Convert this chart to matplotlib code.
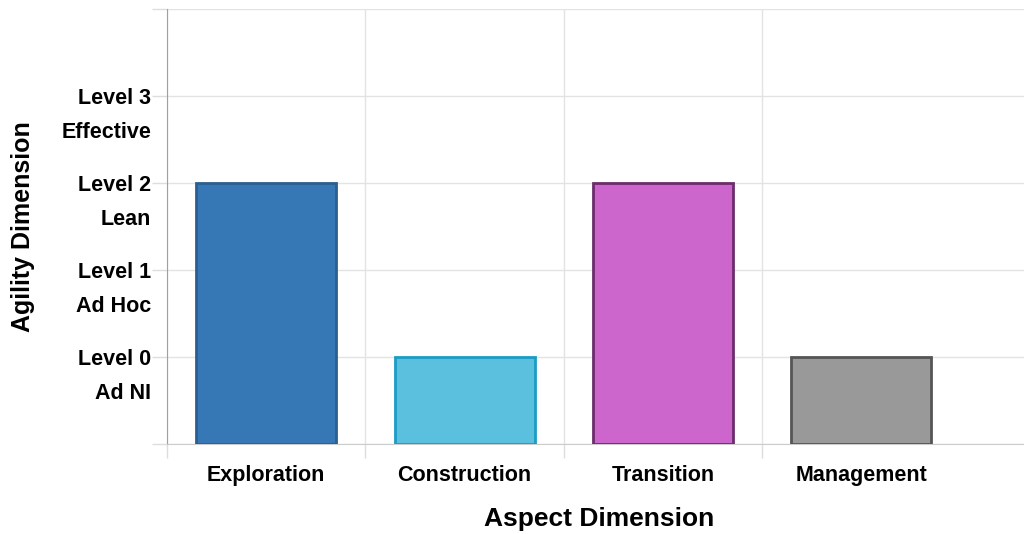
import numpy as np
import matplotlib.pyplot as plt
from matplotlib.ticker import FixedLocator, FixedFormatter

plt.rcParams["font.family"] = ["Liberation Sans", "DejaVu Sans"]
plt.rcParams["font.weight"] = "bold"

aspects = ["Exploration", "Construction", "Transition", "Management"]
levels = [2, 0, 2, 0]
level_names = ["Level 0", "Level 1", "Level 2", "Level 3"]
level_desc = ["Ad NI", "Ad Hoc", "Lean", "Effective"]

fills = ["#3578b5", "#5bc0de", "#cc66cc", "#999999"]
edges = ["#2b5f8f", "#1a9cc4", "#6b2d6b", "#555555"]

fig = plt.figure(figsize=(10.24, 5.34), dpi=100)
ax = fig.add_axes([0.1631, 0.1685, 0.8369, 0.8146])

x = np.arange(len(aspects))
base = -1
ax.bar(x, np.array(levels) - base, bottom=base, width=0.705,
       color=fills, edgecolor=edges, linewidth=2, zorder=3)

ax.set_xlim(-0.5, 3.82)
ax.set_ylim(-1, 4)

# y: gridlines at every level, labels on levels 0-3 with a description below each
ax.yaxis.set_major_locator(FixedLocator([-1, 0, 1, 2, 3, 4]))
ax.yaxis.set_major_formatter(FixedFormatter([""] + level_names + [""]))
ax.yaxis.set_minor_locator(FixedLocator([v - 0.385 for v in range(4)]))
ax.yaxis.set_minor_formatter(FixedFormatter(level_desc))
ax.tick_params(axis="y", which="major", length=10.8, width=1, color="#dddddd",
               pad=0.5, labelsize=15.5)
ax.tick_params(axis="y", which="minor", length=0, pad=11.3, labelsize=15.5)
ax.grid(axis="y", which="major", color="#e3e3e3", linewidth=1, zorder=0)

# x: category labels, separators between categories
ax.xaxis.set_major_locator(FixedLocator(x))
ax.xaxis.set_major_formatter(FixedFormatter(aspects))
ax.xaxis.set_minor_locator(FixedLocator([-0.5, 0.5, 1.5, 2.5]))
ax.tick_params(axis="x", which="major", length=0, pad=15, labelsize=15.5)
ax.tick_params(axis="x", which="minor", length=10, width=1, color="#dddddd")
ax.grid(axis="x", which="minor", color="#e3e3e3", linewidth=1, zorder=0)

for side in ["top", "right"]:
    ax.spines[side].set_visible(False)
ax.spines["left"].set_color("#a0a0a0")
ax.spines["bottom"].set_color("#cccccc")

ax.set_xlabel("Aspect Dimension", fontsize=19, fontweight="bold")
ax.set_ylabel("Agility Dimension", fontsize=18, fontweight="bold")
ax.xaxis.set_label_coords(0.504, -0.145)
ax.yaxis.set_label_coords(-0.154, 0.5)

fig.savefig("out.png", dpi=100)
plt.close(fig)
